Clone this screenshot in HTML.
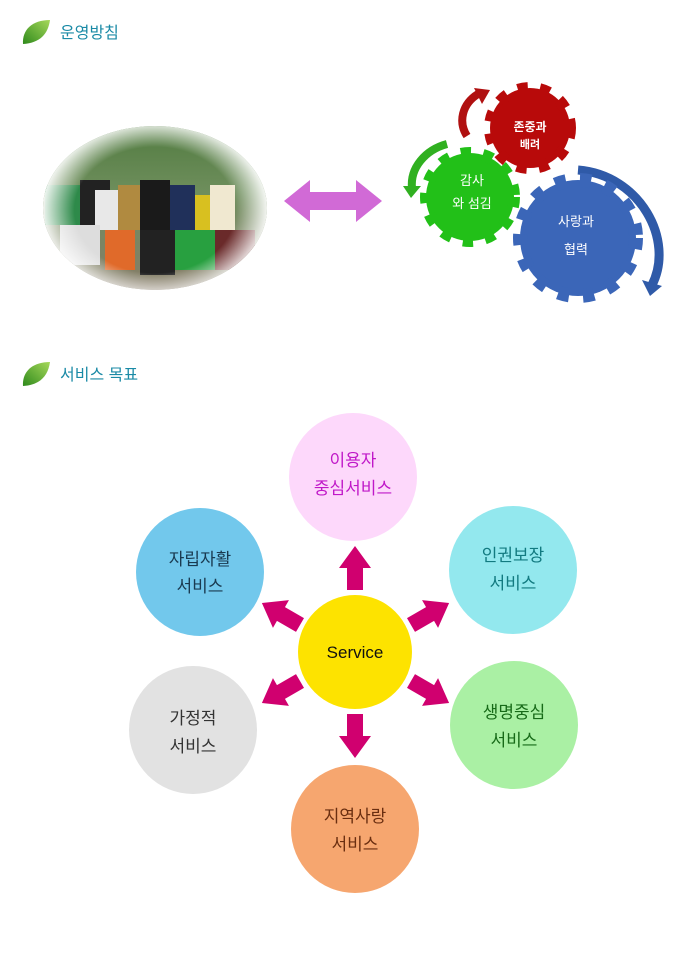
<!DOCTYPE html>
<html><head><meta charset="utf-8"><style>
body{margin:0;background:#fff;width:700px;height:964px;overflow:hidden;font-family:"Liberation Sans","Noto Sans CJK KR",sans-serif}
</style></head><body>
<svg width="700" height="964" viewBox="0 0 700 964" xmlns="http://www.w3.org/2000/svg" font-family="'Liberation Sans','Noto Sans CJK KR',sans-serif">
<defs>
<radialGradient id="ph" cx="50%" cy="50%" r="50%">
<stop offset="0.7" stop-color="#fff" stop-opacity="0"/><stop offset="1" stop-color="#fff"/></radialGradient>
<linearGradient id="bg" x1="0" y1="0" x2="0" y2="1"><stop offset="0" stop-color="#4f7a3e"/><stop offset="0.4" stop-color="#6e8e5c"/><stop offset="1" stop-color="#8a7a6a"/></linearGradient>
<linearGradient id="lf" x1="0" y1="1" x2="1" y2="0"><stop offset="0" stop-color="#2f8a1c"/><stop offset="1" stop-color="#a6d85a"/></linearGradient>
<clipPath id="ce"><ellipse cx="155" cy="208" rx="112" ry="82"/></clipPath>
</defs>
<g><path d="M23 44 C22 30 32 20 50 20 C48 34 40 43 23 44Z" fill="url(#lf)"/>
<text x="60" y="38" font-size="16" fill="#1a8aa6">운영방침</text></g>
<g transform="translate(0,342)"><path d="M23 44 C22 30 32 20 50 20 C48 34 40 43 23 44Z" fill="url(#lf)"/>
<text x="60" y="38" font-size="16" fill="#1a8aa6">서비스 목표</text></g>
<!-- photo -->
<g clip-path="url(#ce)">
<rect x="40" y="120" width="230" height="180" fill="url(#bg)"/>
<rect x="45" y="185" width="35" height="40" fill="#2e8a4a"/>
<rect x="80" y="180" width="30" height="45" fill="#222"/>
<rect x="95" y="190" width="25" height="40" fill="#e8e8e8"/>
<rect x="118" y="185" width="22" height="45" fill="#b08a40"/>
<rect x="140" y="180" width="30" height="50" fill="#1a1a1a"/>
<rect x="170" y="185" width="25" height="45" fill="#20305a"/>
<rect x="195" y="195" width="20" height="40" fill="#d8c020"/>
<rect x="210" y="185" width="25" height="45" fill="#f0e8d0"/>
<rect x="60" y="225" width="40" height="40" fill="#ddd"/>
<rect x="105" y="230" width="30" height="40" fill="#e06a2a"/>
<rect x="140" y="230" width="35" height="45" fill="#222"/>
<rect x="175" y="230" width="40" height="40" fill="#28a040"/>
<rect x="215" y="230" width="40" height="40" fill="#6a2a2a"/>
<rect x="40" y="120" width="230" height="180" fill="url(#ph)"/>
</g>
<!-- purple arrow -->
<polygon points="284,201 310,180 310,192 356,192 356,180 382,201 356,222 356,210 310,210 310,222" fill="#d16ad6"/>
<!-- gears -->
<g>
<path d="M467 136 C458 122 462 104 478 94" stroke="#b01010" stroke-width="8" fill="none"/>
<polygon points="474,88 490,90 482,104" fill="#b01010"/>
<path d="M447 144 C425 150 410 168 412 188" stroke="#30b020" stroke-width="8" fill="none"/>
<polygon points="403,186 421,186 411,198" fill="#30b020"/>
<path d="M578 170 C640 175 675 240 652 285" stroke="#2f5aa8" stroke-width="9" fill="none"/>
<polygon points="642,280 662,286 650,296" fill="#2f5aa8"/>
<circle cx="530" cy="128" r="40" fill="#b80a0a" stroke="#b80a0a" stroke-width="12" stroke-dasharray="10 12"/>
<circle cx="470" cy="197" r="44" fill="#22c018" stroke="#22c018" stroke-width="12" stroke-dasharray="10 12"/>
<circle cx="578" cy="238" r="58" fill="#3b66b8" stroke="#3b66b8" stroke-width="14" stroke-dasharray="11 14"/>
<text x="530" y="131" font-size="12" fill="#fff" text-anchor="middle" font-weight="bold">존중과</text>
<text x="530" y="148" font-size="11" fill="#fff" text-anchor="middle" font-weight="bold">배려</text>
<text x="472" y="185" font-size="13" fill="#fff" text-anchor="middle">감사</text>
<text x="472" y="208" font-size="13" fill="#fff" text-anchor="middle">와 섬김</text>
<text x="576" y="226" font-size="13" fill="#fff" text-anchor="middle">사랑과</text>
<text x="576" y="254" font-size="13" fill="#fff" text-anchor="middle">협력</text>
</g>
<!-- service circles -->
<circle cx="353" cy="477" r="64" fill="#fdd8fb"/>
<circle cx="200" cy="572" r="64" fill="#72c8ec"/>
<circle cx="513" cy="570" r="64" fill="#93e8ee"/>
<circle cx="193" cy="730" r="64" fill="#e2e2e2"/>
<circle cx="514" cy="725" r="64" fill="#aaf0a4"/>
<circle cx="355" cy="829" r="64" fill="#f6a66f"/>
<circle cx="355" cy="652" r="57" fill="#fde300"/>
<text x="355" y="658" font-size="17" text-anchor="middle" fill="#111">Service</text>
<g font-size="17" text-anchor="middle">
<text x="353" y="466" fill="#c018c8">이용자</text><text x="353" y="494" fill="#c018c8">중심서비스</text>
<text x="200" y="565" fill="#1a3a50">자립자활</text><text x="200" y="592" fill="#1a3a50">서비스</text>
<text x="513" y="561" fill="#127a80">인권보장</text><text x="513" y="589" fill="#127a80">서비스</text>
<text x="193" y="724" fill="#333">가정적</text><text x="193" y="752" fill="#333">서비스</text>
<text x="514" y="718" fill="#176a18">생명중심</text><text x="514" y="746" fill="#176a18">서비스</text>
<text x="355" y="822" fill="#6a2e10">지역사랑</text><text x="355" y="850" fill="#6a2e10">서비스</text>
</g>
<g fill="#d0006f">
<polygon points="-8,0 8,0 8,-22 16,-22 0,-44 -16,-22 -8,-22" transform="translate(355,590)"/>
<polygon points="-8,0 8,0 8,-22 16,-22 0,-44 -16,-22 -8,-22" transform="translate(355,714) rotate(180)"/>
<polygon points="-8,0 8,0 8,-22 16,-22 0,-44 -16,-22 -8,-22" transform="translate(300,625) rotate(-60)"/>
<polygon points="-8,0 8,0 8,-22 16,-22 0,-44 -16,-22 -8,-22" transform="translate(411,625) rotate(60)"/>
<polygon points="-8,0 8,0 8,-22 16,-22 0,-44 -16,-22 -8,-22" transform="translate(300,681) rotate(-120)"/>
<polygon points="-8,0 8,0 8,-22 16,-22 0,-44 -16,-22 -8,-22" transform="translate(411,681) rotate(120)"/>
</g>
</svg>
</body></html>
